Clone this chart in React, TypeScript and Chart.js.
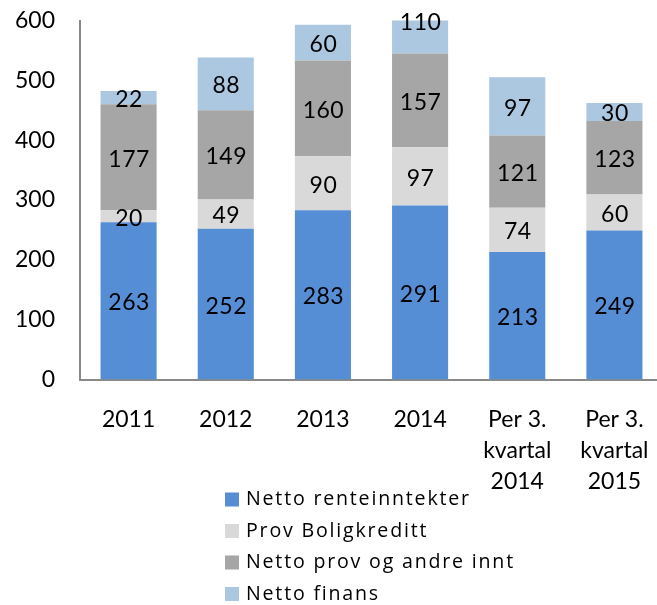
import React, { useEffect, useRef } from "react";
import { Chart, registerables } from "chart.js";

Chart.register(...registerables);

const categories: (string | string[])[] = [
  "2011",
  "2012",
  "2013",
  "2014",
  ["Per 3.", "kvartal", "2014"],
  ["Per 3.", "kvartal", "2015"],
];
const seriesNames = [
  "Netto renteinntekter",
  "Prov Boligkreditt",
  "Netto prov og andre innt",
  "Netto finans",
];
const nettoRenteinntekter = [263, 252, 283, 291, 213, 249];
const provBoligkreditt = [20, 49, 90, 97, 74, 60];
const nettoProvOgAndreInnt = [177, 149, 160, 157, 121, 123];
const nettoFinans = [22, 88, 60, 110, 97, 30];
const yTicks = [0, 100, 200, 300, 400, 500, 600];

const colors = ["#558ED5", "#D9D9D9", "#A6A6A6", "#ACC7E0"];
const FONT = "Lato";
const LEGEND_FONT = "'Open Sans'";

const dataLabelPlugin = {
  id: "dataLabels",
  afterDatasetsDraw(chart: any) {
    const ctx = chart.ctx;
    ctx.save();
    ctx.letterSpacing = "0.5px";
    ctx.font = `23px ${FONT}`;
    ctx.fillStyle = "#000";
    ctx.textAlign = "center";
    ctx.textBaseline = "middle";
    chart.data.datasets.forEach((ds: any, di: number) => {
      const meta = chart.getDatasetMeta(di);
      meta.data.forEach((el: any, i: number) => {
        const v = ds.data[i];
        const cy = (el.y + el.base) / 2 + 2;
        ctx.fillText(String(v), el.x + 0.5, cy);
      });
    });
    ctx.restore();
  },
};

const legendPlugin = {
  id: "vertLegend",
  afterDraw(chart: any) {
    const ctx = chart.ctx;
    ctx.save();
    ctx.letterSpacing = "1.8px";
    ctx.font = `19.6px ${LEGEND_FONT}`;
    ctx.textAlign = "left";
    ctx.textBaseline = "middle";
    const rows = [499.5, 531, 562.5, 594];
    chart.data.datasets.forEach((ds: any, i: number) => {
      const cy = rows[i];
      ctx.fillStyle = ds.backgroundColor;
      ctx.fillRect(225, cy - 7, 14, 14);
      ctx.fillStyle = "#000";
      ctx.fillText(ds.label, 246, cy);
    });
    ctx.restore();
  },
};

export default function App() {
  const ref = useRef<HTMLCanvasElement | null>(null);
  useEffect(() => {
    if (!ref.current) return;
    const series = [nettoRenteinntekter, provBoligkreditt, nettoProvOgAndreInnt, nettoFinans];
    const chart = new Chart(ref.current, {
      type: "bar",
      data: {
        labels: categories as any,
        datasets: series.map((d, i) => ({
          label: seriesNames[i],
          data: d,
          backgroundColor: colors[i],
          borderWidth: 0,
          categoryPercentage: 0.577,
          barPercentage: 1,
        })),
      },
      options: {
        animation: false,
        responsive: false,
        layout: { padding: { top: 20.5, left: 0, right: 0, bottom: 0 } },
        plugins: { legend: { display: false }, tooltip: { enabled: false } },
        scales: {
          x: {
            stacked: true,
            grid: { display: false },
            border: { display: true, color: "#898989", width: 2 },
            ticks: {
              color: "#000",
              font: { family: FONT, size: 23, lineHeight: 1.36 },
              padding: 16,
              maxRotation: 0,
              autoSkip: false,
            },
            afterFit(scale: any) {
              scale.height = 605 - 379.5;
              scale.paddingLeft = 0;
              scale.paddingRight = 0;
            },
          },
          y: {
            stacked: true,
            min: 0,
            max: 600,
            grid: { display: false },
            border: { display: true, color: "#898989", width: 2 },
            afterBuildTicks(scale: any) {
              scale.ticks = yTicks.map((v) => ({ value: v }));
            },
            ticks: {
              color: "#000",
              font: { family: FONT, size: 23 },
              padding: 17,
              crossAlign: "near",
            },
            afterFit(scale: any) {
              scale.width = 80;
              scale.paddingTop = 0;
              scale.paddingBottom = 0;
            },
          },
        },
      },
      plugins: [dataLabelPlugin, legendPlugin],
    });
    return () => chart.destroy();
  }, []);
  return (
    <div style={{ position: "absolute", left: 0, top: 0, width: 657, height: 605, overflow: "hidden", background: "#fff" }}>
      <canvas ref={ref} width={663} height={605} style={{ display: "block" }} />
    </div>
  );
}
